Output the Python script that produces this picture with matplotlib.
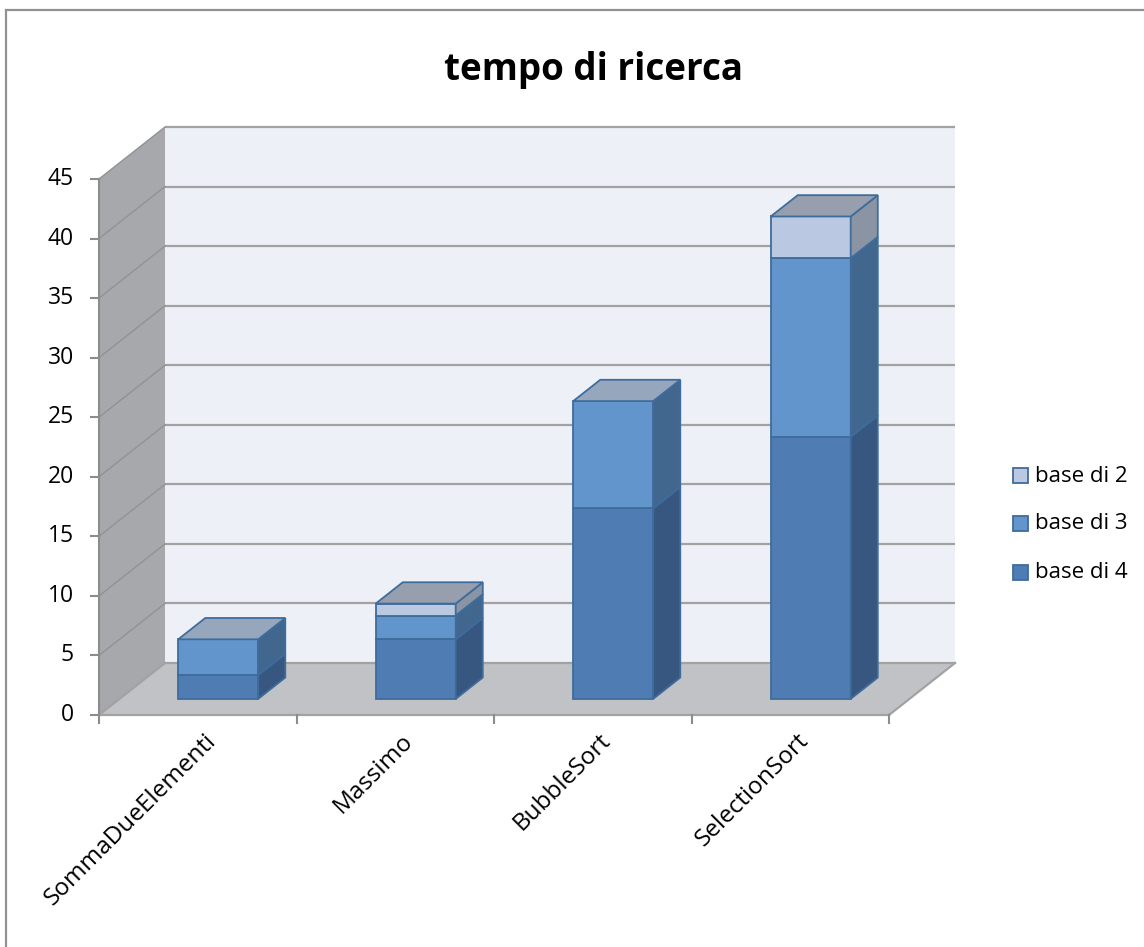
import matplotlib
matplotlib.use("Agg")
import matplotlib.pyplot as plt
from matplotlib.patches import Polygon, Rectangle
from matplotlib.lines import Line2D

# ---------------- data ----------------
categories = ["SommaDueElementi", "Massimo", "BubbleSort", "SelectionSort"]
series_names = ["base di 4", "base di 3", "base di 2"]
base4 = [2, 5, 16, 22]
base3 = [3, 2, 9, 15]
base2 = [0, 1, 0, 3.5]
yticks = [0, 5, 10, 15, 20, 25, 30, 35, 40, 45]
title = "tempo di ricerca"

# ---------------- style ----------------
FONT = ["Open Sans", "DejaVu Sans"]
plt.rcParams['font.family'] = FONT
front_c = {"base di 4": "#4F7CB3", "base di 3": "#6395CD", "base di 2": "#BAC8E1"}
side_c = {"base di 4": "#385780", "base di 3": "#41678F", "base di 2": "#8B94A3"}
top_c = {"base di 4": "#8E9DB3", "base di 3": "#96A6BC", "base di 2": "#979FAE"}
edge_c = "#3E6C9C"
grid_c = "#A2A2A2"
axis_c = "#8C8C8C"

W, H = 1144, 947
fig = plt.figure(figsize=(W / 100, H / 100), dpi=100)
ax = fig.add_axes([0, 0, 1, 1])

# front plane mapping: category units on x, value units on y
x0px, x4px = 99, 889
ypx0, ypx45 = 715, 179
ux = (x4px - x0px) / len(categories)
uy = (ypx0 - ypx45) / yticks[-1]
ax.set_xlim(-x0px / ux, (W - x0px) / ux)
ax.set_ylim(-(H - ypx0) / uy, ypx0 / uy)
ax.axis('off')

DX, DY = 66 / ux, 52 / uy  # depth vector
ncat = len(categories)
ymax = yticks[-1]


def P(x, y, f):
    return (x + f * DX, y + f * DY)


# walls & floor
ax.add_patch(Polygon([P(0, 0, 1), P(ncat, 0, 1), P(ncat, ymax, 1), P(0, ymax, 1)],
                     closed=True, fc="#EDF1F7", ec="none", zorder=1))
ax.add_patch(Polygon([P(0, 0, 0), P(0, 0, 1), P(0, ymax, 1), P(0, ymax, 0)],
                     closed=True, fc="#A6A8AB", ec="none", zorder=1))
ax.add_patch(Polygon([P(0, 0, 0), P(ncat, 0, 0), P(ncat, 0, 1), P(0, 0, 1)],
                     closed=True, fc="#C0C2C6", ec="none", zorder=1))

# gridlines
for v in yticks[1:]:
    a, b = P(0, v, 1), P(ncat, v, 1)
    ax.plot([a[0], b[0]], [a[1], b[1]], color=grid_c, lw=1.6, zorder=2,
            solid_capstyle='butt')
    c, d = P(0, v, 0), P(0, v, 1)
    ax.plot([c[0], d[0]], [c[1], d[1]], color="#909295", lw=1.0, zorder=2)

# floor edges
for (pa, pb) in [(P(0, 0, 1), P(ncat, 0, 1)), (P(0, 0, 0), P(ncat, 0, 0)),
                 (P(ncat, 0, 0), P(ncat, 0, 1)), (P(0, 0, 0), P(0, 0, 1))]:
    ax.plot([pa[0], pb[0]], [pa[1], pb[1]], color=grid_c, lw=1.6, zorder=2)

# value axis
ax.plot([0, 0], [0, ymax], color=axis_c, lw=1.5, zorder=3)
for v in yticks:
    ax.plot([-8 / ux, 0], [v, v], color=axis_c, lw=1.5, zorder=3)
    ax.text(-25 / ux, v, str(v), ha='right', va='center', fontsize=16.5,
            color="#000000")
for i in range(ncat + 1):
    ax.plot([i, i], [0, -8 / uy], color=axis_c, lw=1.5, zorder=3)

# bars
f0, f1 = 0.31, 0.72
bw = 0.405
series_vals = {"base di 4": base4, "base di 3": base3, "base di 2": base2}
for i, cat in enumerate(categories):
    xl, xr = i + 0.5 - bw / 2, i + 0.5 + bw / 2
    bottom = 0
    last = None
    for name in series_names:
        v = series_vals[name][i]
        if v <= 0:
            continue
        t = bottom + v
        ax.add_patch(Polygon([P(xl, bottom, f0), P(xr, bottom, f0), P(xr, t, f0), P(xl, t, f0)],
                             closed=True, fc=front_c[name], ec=edge_c, lw=1.3, zorder=5))
        ax.add_patch(Polygon([P(xr, bottom, f0), P(xr, bottom, f1), P(xr, t, f1), P(xr, t, f0)],
                             closed=True, fc=side_c[name], ec=edge_c, lw=1.3, zorder=5))
        bottom = t
        last = name
    if last is not None:
        ax.add_patch(Polygon([P(xl, bottom, f0), P(xr, bottom, f0), P(xr, bottom, f1), P(xl, bottom, f1)],
                             closed=True, fc=top_c[last], ec=edge_c, lw=1.3, zorder=6))

# category labels
for i, cat in enumerate(categories):
    ax.text(i + 0.5 + 6 / ux, -14 / uy, cat, rotation=45, ha='right', va='top',
            rotation_mode='anchor', fontsize=17.5, color="#000000")

# title
fig.text(593 / W, 1 - 70 / H, title, ha='center', va='center', fontsize=26.5,
         fontweight='bold', color="#000000")

# legend (top-to-bottom: reverse stacking order)
leg_y = [476, 523, 572]
for yy, name in zip(leg_y, series_names[::-1]):
    fig.patches.append(Rectangle(((1013) / W, 1 - (yy + 7.5) / H), 15 / W, 15 / H,
                                 transform=fig.transFigure, fc=front_c[name],
                                 ec=edge_c, lw=1.3))
    fig.text(1035 / W, 1 - yy / H, name, ha='left', va='center', fontsize=16,
             color="#000000")

# chart area border (top & left visible)
fig.add_artist(Line2D([6 / W, 1], [1 - 10 / H, 1 - 10 / H], transform=fig.transFigure,
                      color="#929292", lw=1.6))
fig.add_artist(Line2D([6 / W, 6 / W], [0, 1 - 10 / H], transform=fig.transFigure,
                      color="#929292", lw=1.6))

fig.savefig("out.png", dpi=100, facecolor="white")
